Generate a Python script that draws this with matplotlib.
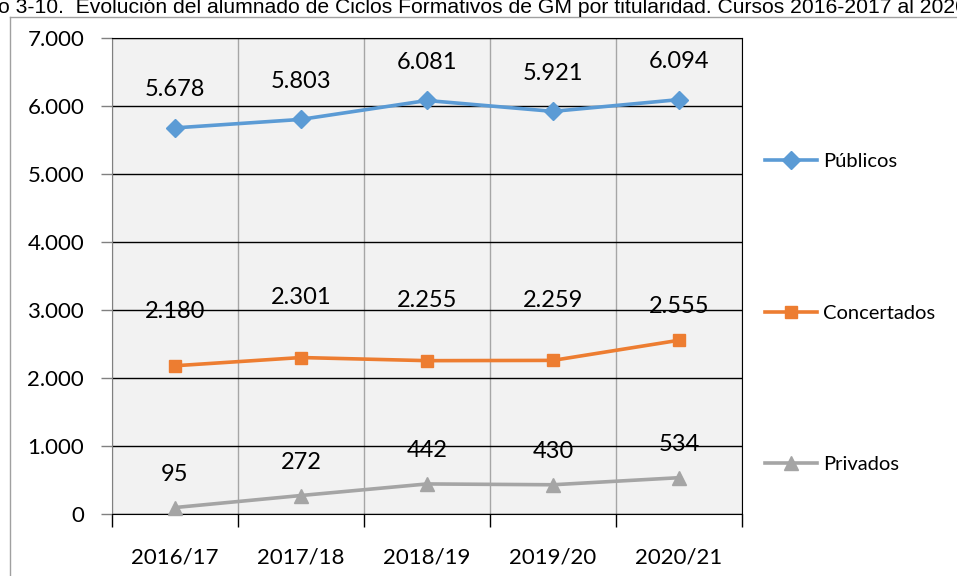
import matplotlib.pyplot as plt
from matplotlib.lines import Line2D
from matplotlib.ticker import FuncFormatter

cursos = ['2016/17', '2017/18', '2018/19', '2019/20', '2020/21']
publicos = [5678, 5803, 6081, 5921, 6094]
concertados = [2180, 2301, 2255, 2259, 2555]
privados = [95, 272, 442, 430, 534]

titulo = ('o 3-10.  Evolución del alumnado de Ciclos Formativos de GM por '
          'titularidad. Cursos 2016-2017 al 2020-2021')


def miles(v, pos=None):
    return f'{int(round(v)):,}'.replace(',', '.')


plt.rcParams['font.family'] = ['Lato', 'DejaVu Sans']

fig = plt.figure(figsize=(9.57, 5.76), dpi=100)
ax = fig.add_axes([112 / 957, 1 - 514 / 576, 630 / 957, 476 / 576])
ax.set_facecolor('#F2F2F2')

x = list(range(len(cursos)))
series = [
    ('Públicos', publicos, '#5B9BD5', 'D', 9, [38] * 5),
    ('Concertados', concertados, '#ED7D31', 's', 9, [54, 60, 60, 60, 34]),
    ('Privados', privados, '#A5A5A5', '^', 10, [33] * 5),
]
for nombre, vals, color, mk, ms, offs in series:
    ax.plot(x, vals, color=color, lw=2.6, marker=mk, markersize=ms,
            label=nombre, zorder=3, clip_on=False)
    for xi, v, off in zip(x, vals, offs):
        ax.annotate(miles(v), (xi, v), xytext=(0, off / 1.389),
                    textcoords='offset points', ha='center', va='center',
                    fontsize=17, color='#000000', zorder=4)

ax.set_xlim(-0.5, len(cursos) - 0.5)
ax.set_ylim(0, 7000)
ax.set_yticks(range(0, 7001, 1000))
ax.yaxis.set_major_formatter(FuncFormatter(miles))
ax.set_xticks(x)
ax.set_xticklabels(cursos)
ax.set_xticks([i - 0.5 for i in range(len(cursos) + 1)], minor=True)

ax.tick_params(axis='x', which='major', length=0, pad=24, labelsize=16)
ax.tick_params(axis='x', which='minor', length=9, width=1, color='#000000')
ax.tick_params(axis='y', length=8, width=1, color='#808080', pad=12,
               labelsize=16)

ax.grid(axis='y', which='major', color='#000000', lw=1, zorder=1)
ax.grid(axis='x', which='minor', color='#A6A6A6', lw=1, zorder=1)
ax.set_axisbelow(True)
for s in ['top', 'right', 'bottom']:
    ax.spines[s].set_color('#000000')
ax.spines['left'].set_color('#808080')

fig.legend(loc='center left', bbox_to_anchor=(757 / 957, 1 - 313 / 576),
           frameon=False, fontsize=14.5, labelspacing=6.68, handlelength=2.6,
           handletextpad=0.3, borderaxespad=0)

fig.text(-0.002, 1 - 13 / 576, titulo, family='Liberation Sans',
         fontsize=15.2, ha='left', va='baseline')
fig.add_artist(Line2D([10 / 957, 10 / 957], [0, 1 - 17 / 576],
                      transform=fig.transFigure, color='#A0A0A0', lw=1))
fig.add_artist(Line2D([10 / 957, 1], [1 - 17 / 576, 1 - 17 / 576],
                      transform=fig.transFigure, color='#A0A0A0', lw=1))

fig.savefig('out.png', dpi=100)
